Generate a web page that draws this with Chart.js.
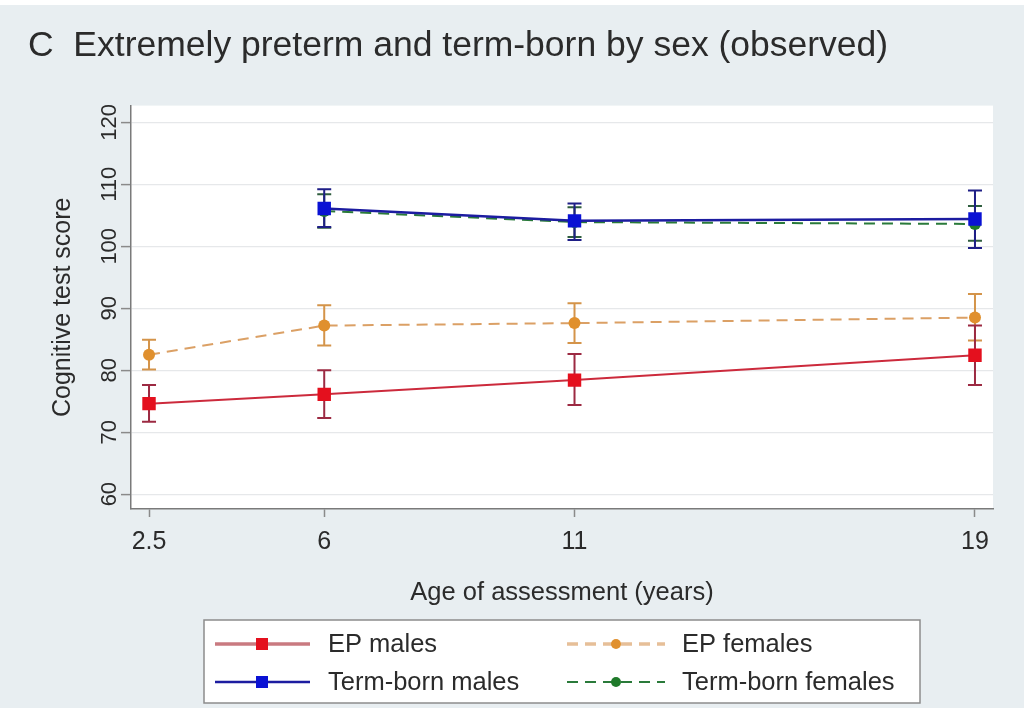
<!DOCTYPE html>
<html>
<head>
<meta charset="utf-8">
<title>Cognitive test score by age</title>
<script src="https://cdn.jsdelivr.net/npm/chart.js@4.4.1/dist/chart.umd.min.js"></script>
<style>
  html, body { margin: 0; padding: 0; background: #e8eef1; }
  canvas { display: block; }
</style>
</head>
<body>
<canvas id="chart" width="1024" height="708"></canvas>
<script>
// Ages at assessment (years)
const ages = [2.5, 6, 11, 19];
const termAges = [6, 11, 19];

// Observed means with 95% confidence limits
const epMalesMean  = [74.6, 76.1, 78.4, 82.4];
const epMalesLower = [71.7, 72.3, 74.4, 77.6];
const epMalesUpper = [77.6, 80.0, 82.6, 87.2];

const epFemalesMean  = [82.5, 87.2, 87.6, 88.5];
const epFemalesLower = [80.1, 84.0, 84.4, 84.8];
const epFemalesUpper = [84.9, 90.5, 90.8, 92.3];

const termMalesMean  = [106.1, 104.1, 104.4];
const termMalesLower = [103.1, 101.0, 99.7];
const termMalesUpper = [109.2, 106.9, 109.0];

const termFemalesMean  = [105.7, 103.9, 103.6];
const termFemalesLower = [103.0, 101.5, 100.9];
const termFemalesUpper = [108.4, 106.3, 106.5];

const seriesLabels = ['EP males', 'EP females', 'Term-born males', 'Term-born females'];
const xTickValues = [2.5, 6, 11, 19];
const yTickValues = [60, 70, 80, 90, 100, 110, 120];

const FONT = "'Liberation Sans', Arial, Helvetica, sans-serif";
const TEXT = '#2b2b2b';

function points(xs, ys) {
  return xs.map((x, i) => ({ x: x, y: ys[i] }));
}

// Page background, white plot region
const backdrop = {
  id: 'backdrop',
  beforeDraw(chart) {
    const { ctx, chartArea: a, width, height } = chart;
    ctx.save();
    ctx.fillStyle = '#e8eef1';
    ctx.fillRect(0, 0, width, height);
    ctx.fillStyle = '#ffffff';
    ctx.fillRect(0, 0, width, 5);
    ctx.fillRect(a.left, a.top, a.right - a.left, a.bottom - a.top);
    ctx.restore();
  }
};

// Capped confidence-interval bars under each series
const errorBars = {
  id: 'errorBars',
  beforeDatasetsDraw(chart) {
    const { ctx, scales: { x, y } } = chart;
    ctx.save();
    for (let i = chart.data.datasets.length - 1; i >= 0; i--) {
      const ds = chart.data.datasets[i];
      if (!ds.ci) continue;
      ctx.strokeStyle = ds.ciColor;
      ctx.lineWidth = 2;
      ds.data.forEach((p, j) => {
        const px = x.getPixelForValue(p.x);
        const lo = y.getPixelForValue(ds.ci.lower[j]);
        const hi = y.getPixelForValue(ds.ci.upper[j]);
        const cap = 7;
        ctx.beginPath();
        ctx.moveTo(px, lo); ctx.lineTo(px, hi);
        ctx.moveTo(px - cap, lo); ctx.lineTo(px + cap, lo);
        ctx.moveTo(px - cap, hi); ctx.lineTo(px + cap, hi);
        ctx.stroke();
      });
    }
    ctx.restore();
  }
};

// Boxed two-column legend below the axis title
const boxedLegend = {
  id: 'boxedLegend',
  afterDraw(chart) {
    const { ctx } = chart;
    const box = { left: 204, top: 620, right: 920, bottom: 703 };
    const rows = [644, 682];
    const cols = [
      { x0: 215, x1: 310, mark: 262, text: 328 },
      { x0: 567, x1: 665, mark: 616, text: 682 }
    ];
    ctx.save();
    ctx.fillStyle = '#ffffff';
    ctx.fillRect(box.left, box.top, box.right - box.left, box.bottom - box.top);
    ctx.strokeStyle = '#8c8c8c';
    ctx.lineWidth = 1.5;
    ctx.strokeRect(box.left, box.top, box.right - box.left, box.bottom - box.top);

    chart.data.datasets.forEach((ds, i) => {
      const row = rows[Math.floor(i / 2)];
      const col = cols[i % 2];
      ctx.strokeStyle = ds.legendLine || ds.borderColor;
      ctx.lineWidth = ds.legendWidth || ds.borderWidth;
      ctx.setLineDash(ds.borderDash || []);
      ctx.beginPath();
      ctx.moveTo(col.x0, row);
      ctx.lineTo(col.x1, row);
      ctx.stroke();
      ctx.setLineDash([]);
      ctx.fillStyle = ds.pointBackgroundColor;
      Chart.helpers.drawPoint(ctx, {
        pointStyle: ds.pointStyle,
        radius: ds.pointRadius - 1,
        borderWidth: 0
      }, col.mark, row);
      ctx.fillStyle = TEXT;
      ctx.font = '25.5px ' + FONT;
      ctx.textAlign = 'left';
      ctx.textBaseline = 'middle';
      ctx.fillText(ds.label, col.text, row + 1);
    });
    ctx.restore();
  }
};

Chart.defaults.font.family = FONT;
Chart.defaults.color = TEXT;

new Chart(document.getElementById('chart'), {
  type: 'line',
  data: {
    datasets: [
      {
        label: seriesLabels[0],
        data: points(ages, epMalesMean),
        ci: { lower: epMalesLower, upper: epMalesUpper },
        ciColor: '#9c2a42',
        borderColor: '#cc2a3c',
        legendLine: '#c97a80',
        legendWidth: 3.5,
        borderWidth: 2,
        pointStyle: 'rect',
        pointRadius: 9.5,
        pointBorderWidth: 0,
        pointBackgroundColor: '#e4101e'
      },
      {
        label: seriesLabels[1],
        data: points(ages, epFemalesMean),
        ci: { lower: epFemalesLower, upper: epFemalesUpper },
        ciColor: '#d4944a',
        borderColor: '#dba065',
        legendLine: '#e6bf98',
        legendWidth: 3.5,
        borderWidth: 2,
        borderDash: [11, 7],
        pointStyle: 'circle',
        pointRadius: 6,
        pointBorderWidth: 0,
        pointBackgroundColor: '#e0902e'
      },
      {
        label: seriesLabels[2],
        data: points(termAges, termMalesMean),
        ci: { lower: termMalesLower, upper: termMalesUpper },
        ciColor: '#1e1e86',
        borderColor: '#1c1ca0',
        borderWidth: 2.5,
        pointStyle: 'rect',
        pointRadius: 9.5,
        pointBorderWidth: 0,
        pointBackgroundColor: '#0a12d4'
      },
      {
        label: seriesLabels[3],
        data: points(termAges, termFemalesMean),
        ci: { lower: termFemalesLower, upper: termFemalesUpper },
        ciColor: '#2f5e3e',
        borderColor: '#2a7a3a',
        borderWidth: 2,
        borderDash: [11, 7],
        pointStyle: 'circle',
        pointRadius: 6,
        pointBorderWidth: 0,
        pointBackgroundColor: '#1f7a2a'
      }
    ]
  },
  options: {
    responsive: false,
    animation: false,
    devicePixelRatio: 1,
    layout: { padding: { left: 28, right: 31, top: 0, bottom: 0 } },
    elements: { line: { tension: 0 } },
    plugins: {
      legend: { display: false },
      tooltip: { enabled: false },
      title: {
        display: true,
        text: 'C  Extremely preterm and term-born by sex (observed)',
        align: 'start',
        color: TEXT,
        font: { family: FONT, size: 35.5, weight: 'normal', lineHeight: 1.2 },
        padding: { top: 25, bottom: 38 }
      }
    },
    scales: {
      x: {
        type: 'linear',
        min: 2.14,
        max: 19.36,
        afterBuildTicks: s => { s.ticks = xTickValues.map(v => ({ value: v })); },
        afterFit: s => { s.height = 199; },
        grid: { drawOnChartArea: false, drawTicks: true, tickLength: 8, tickColor: '#8a8a8a', tickWidth: 1.5 },
        border: { display: true, color: '#7a7a7a', width: 1.5 },
        ticks: {
          autoSkip: false, maxRotation: 0, padding: 10, color: TEXT,
          font: { family: FONT, size: 25 },
          callback: v => String(v)
        },
        title: {
          display: true,
          text: 'Age of assessment (years)',
          color: TEXT,
          font: { family: FONT, size: 25.5, lineHeight: 1.2 },
          padding: { top: 0, bottom: 100 }
        }
      },
      y: {
        type: 'linear',
        min: 57.6,
        max: 122.7,
        afterBuildTicks: s => { s.ticks = yTickValues.map(v => ({ value: v })); },
        afterFit: s => { s.width = 103; },
        grid: { color: '#e6e8ea', lineWidth: 1.2, drawTicks: true, tickLength: 10, tickColor: '#8a8a8a', tickWidth: 1.5 },
        border: { display: true, color: '#7a7a7a', width: 1.5 },
        ticks: {
          autoSkip: false, minRotation: 90, maxRotation: 90, crossAlign: 'center',
          padding: -7, color: TEXT,
          font: { family: FONT, size: 22 }
        },
        title: {
          display: true,
          text: 'Cognitive test score',
          color: TEXT,
          font: { family: FONT, size: 25, lineHeight: 1.2 },
          padding: { top: 20, bottom: 0 }
        }
      }
    }
  },
  plugins: [backdrop, errorBars, boxedLegend]
});
</script>
</body>
</html>
